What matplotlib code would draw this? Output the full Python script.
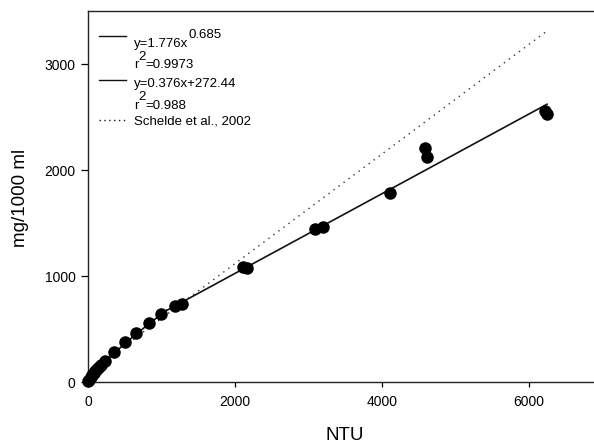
import numpy as np
import matplotlib
matplotlib.use("Agg")
import matplotlib.pyplot as plt

plt.rcParams['font.family'] = ['Liberation Sans', 'DejaVu Sans']

# measured points (NTU, mg/1000 ml)
ntu = [5, 20, 40, 54, 75, 99, 125, 146, 180, 227, 358, 507, 653, 826, 997, 1188, 1279,
       2104, 2167, 3088, 3197, 4109, 4585, 4608, 6218, 6245]
mg = [8, 22, 45, 66, 85, 104, 122, 139, 165, 198, 280, 374, 465, 559, 639, 717, 733,
      1082, 1075, 1443, 1465, 1780, 2205, 2125, 2557, 2528]

# fitted curves
low_fit_a, low_fit_b = 2.1, 0.828        # drawn low-range curve
lin_slope, lin_icpt = 0.376, 272.44      # y=0.376x+272.44
fit_join_x, fit_end_x = 1070, 6245
schelde_slope, schelde_icpt = 0.517, 83
schelde_end_x = 6231

# legend rows: (main text, superscript, text after superscript)
legend_rows = [("y=1.776x", "0.685", ""),
               ("r", "2", "=0.9973"),
               ("y=0.376x+272.44", "", ""),
               ("r", "2", "=0.988"),
               ("Schelde et al., 2002", "", "")]

xticks = [0, 2000, 4000, 6000]
yticks = [0, 1000, 2000, 3000]

W, H = 594, 444
fig = plt.figure(figsize=(W / 100, H / 100), dpi=100)
ax = fig.add_axes([88 / W, (H - 382) / H, 514.5 / W, 371 / H])
ax.set_xlim(0, 7000)
ax.set_ylim(0, 3500)

# Schelde line
xs = np.linspace(0, schelde_end_x, 200)
ax.plot(xs, schelde_slope * xs + schelde_icpt, color='#333333', lw=1.0,
        linestyle=(0, (1, 3.5)), zorder=2)

# fitted solid line
x1 = np.linspace(0, fit_join_x, 200)
ax.plot(x1, low_fit_a * x1 ** low_fit_b, color='#111111', lw=1.2, zorder=2)
x2 = np.linspace(fit_join_x, fit_end_x, 50)
ax.plot(x2, lin_slope * x2 + lin_icpt, color='#111111', lw=1.2, zorder=2)

ax.plot(ntu, mg, 'o', color='black', markersize=8, zorder=3, clip_on=False)

ax.set_xticks(xticks)
ax.set_yticks(yticks)
ax.tick_params(axis='x', direction='out', length=3.5, width=0.9, pad=5.5, labelsize=10)
ax.tick_params(axis='y', direction='out', length=5, width=0.9, pad=4.0, labelsize=10)
for s in ax.spines.values():
    s.set_linewidth(1.0)
    s.set_color('#222222')

fig.text(345 / W, 1 - 435 / H, "NTU", ha='center', va='center', fontsize=13.5)
fig.text(21 / W, 1 - 198 / H, "mg/1000 ml", ha='center', va='center',
         fontsize=13.5, rotation=90)

# legend drawn manually (pixel positions converted to figure fractions)
def fx(px):
    return px / W

def fy(py):
    return 1 - py / H

handles = [(36, '-'), (80, '-'), (120, (0, (1, 2.5)))]
for yy, ls in handles:
    fig.add_artist(plt.Line2D([fx(98.5), fx(125.5)], [fy(yy), fy(yy)], color='#111111',
                              lw=1.0, linestyle=ls))

renderer = fig.canvas.get_renderer()
text_baselines = [46.5, 68.5, 86.5, 109, 124]
fs = 9.5
for (main, sup, after), yb in zip(legend_rows, text_baselines):
    t = fig.text(fx(134), fy(yb), main, ha='left', va='baseline', fontsize=fs)
    x_right = t.get_window_extent(renderer).x1
    if sup:
        ts = fig.text(x_right / W, fy(yb - 9), sup, ha='left', va='baseline',
                      fontsize=fs)
        x_right = ts.get_window_extent(renderer).x1
    if after:
        fig.text(x_right / W, fy(yb), after, ha='left', va='baseline', fontsize=fs)

fig.savefig("out.png", dpi=100)
